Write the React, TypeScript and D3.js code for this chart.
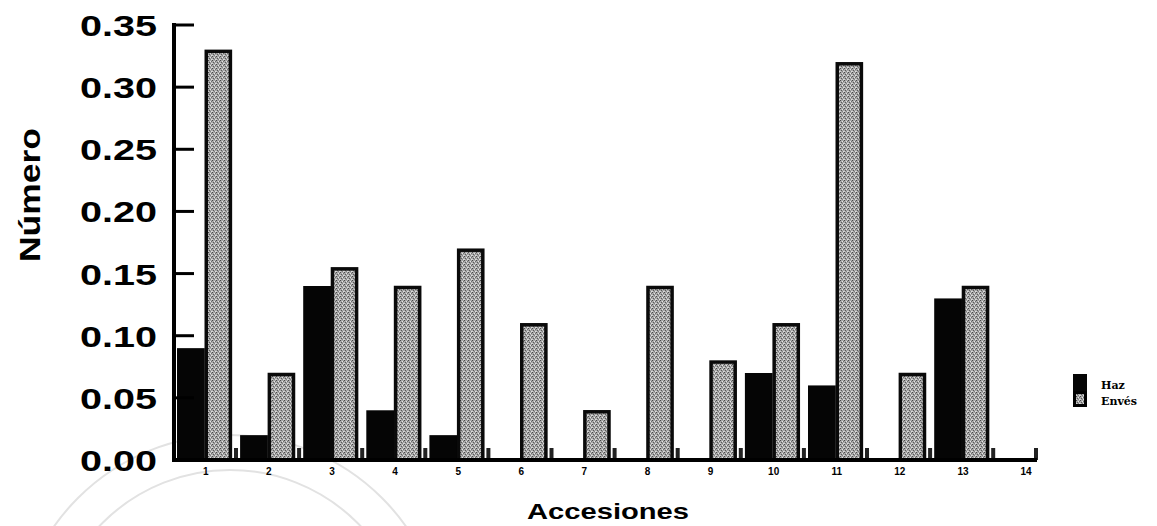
import { useMemo } from "react";
import * as d3 from "d3";

// Accessions on the x axis
const ACCESSIONS = ["1", "2", "3", "4", "5", "6", "7", "8", "9", "10", "11", "12", "13", "14"];
// Haz (upper leaf side)
const HAZ = [0.09, 0.02, 0.14, 0.04, 0.02, 0, 0, 0, 0, 0.07, 0.06, 0, 0.13, 0];
// Envés (lower leaf side)
const ENVES = [0.33, 0.07, 0.155, 0.14, 0.17, 0.11, 0.04, 0.14, 0.08, 0.11, 0.32, 0.07, 0.14, 0];
const Y_TICKS = [0, 0.05, 0.1, 0.15, 0.2, 0.25, 0.3, 0.35];
const LEGEND = ["Haz", "Envés"];

const W = 1157;
const H = 526;
const FONT = "'Liberation Sans', Arial, sans-serif";

export default function App() {
  const x = useMemo(
    () => d3.scaleBand<string>().domain(ACCESSIONS).range([177, 177 + 63.1 * ACCESSIONS.length]).padding(0),
    []
  );
  const y = useMemo(() => d3.scaleLinear().domain([0, 0.35]).range([460, 25]), []);

  const bw = x.bandwidth();
  const hazW = bw * 0.44;
  const envW = bw * 0.43;
  const axisX = 174;
  const axisEnd = 1037;

  return (
    <svg
      width={W}
      height={H}
      style={{ position: "absolute", left: 0, top: 0, background: "#fff" }}
    >
      <defs>
        <pattern id="speckle" width="4" height="4" patternUnits="userSpaceOnUse">
          <rect width="4" height="4" fill="#a8a8a8" />
          <rect x="0" y="0" width="1" height="1" fill="#4a4a4a" />
          <rect x="2" y="1" width="1" height="1" fill="#e6e6e6" />
          <rect x="1" y="2" width="1" height="1" fill="#5a5a5a" />
          <rect x="3" y="3" width="1" height="1" fill="#dedede" />
          <rect x="3" y="1" width="1" height="1" fill="#707070" />
          <rect x="0" y="3" width="1" height="1" fill="#d0d0d0" />
          <rect x="2" y="3" width="1" height="1" fill="#808080" />
        </pattern>
      </defs>

      {/* faint seal watermark */}
      <g fill="none" stroke="#e2e2e2" strokeWidth={2}>
        <circle cx={230} cy={650} r={215} />
        <circle cx={230} cy={650} r={180} />
      </g>

      {/* Haz bars */}
      {ACCESSIONS.map((a, i) =>
        HAZ[i] > 0 ? (
          <rect
            key={`h${a}`}
            x={x(a)!}
            y={y(HAZ[i])}
            width={hazW}
            height={y(0) - y(HAZ[i])}
            fill="#050505"
          />
        ) : null
      )}

      {/* Envés bars */}
      {ACCESSIONS.map((a, i) =>
        ENVES[i] > 0 ? (
          <rect
            key={`e${a}`}
            x={x(a)! + hazW + 1.5}
            y={y(ENVES[i]) + 1.5}
            width={envW - 3}
            height={y(0) - y(ENVES[i]) - 1.5}
            fill="url(#speckle)"
            stroke="#0a0a0a"
            strokeWidth={3.5}
          />
        ) : null
      )}

      {/* small inner marks after each group */}
      {ACCESSIONS.slice(0, 13).map((a) => (
        <rect key={`m${a}`} x={x(a)! + 57} y={y(0) - 12} width={4} height={12} fill="#222" />
      ))}
      <rect x={axisEnd - 3} y={y(0) - 12} width={4} height={12} fill="#222" />

      {/* y axis */}
      <line x1={axisX} x2={axisX} y1={y(0.35) - 2} y2={y(0) + 2} stroke="#000" strokeWidth={4} />
      {Y_TICKS.map((t) => (
        <g key={t}>
          {t > 0 && (
            <line x1={axisX} x2={axisX + 20} y1={y(t)} y2={y(t)} stroke="#000" strokeWidth={3} />
          )}
          <text
            x={80}
            y={y(t) + 11}
            fontFamily={FONT}
            fontWeight="bold"
            fontSize={30}
            textLength={77}
            lengthAdjust="spacingAndGlyphs"
            fill="#000"
          >
            {d3.format(".2f")(t)}
          </text>
        </g>
      ))}

      {/* x axis */}
      <line x1={axisX - 2} x2={axisEnd} y1={y(0)} y2={y(0)} stroke="#000" strokeWidth={4} />
      {ACCESSIONS.map((a) => (
        <text
          key={`l${a}`}
          x={x(a)! + hazW + 1}
          y={y(0) + 15}
          textAnchor="middle"
          fontFamily={FONT}
          fontWeight="bold"
          fontSize={10}
          fill="#000"
        >
          {a}
        </text>
      ))}

      {/* axis titles */}
      <text
        x={608}
        y={519}
        textAnchor="middle"
        fontFamily={FONT}
        fontWeight="bold"
        fontSize={22}
        textLength={162}
        lengthAdjust="spacingAndGlyphs"
        fill="#000"
      >
        Accesiones
      </text>
      <text
        transform="translate(40,195) rotate(-90)"
        textAnchor="middle"
        fontFamily={FONT}
        fontWeight="bold"
        fontSize={29}
        textLength={134}
        lengthAdjust="spacingAndGlyphs"
        fill="#000"
      >
        Número
      </text>

      {/* legend */}
      <rect x={1073} y={374} width={14} height={17} fill="#050505" />
      <rect x={1074.5} y={392.5} width={11} height={13} fill="url(#speckle)" stroke="#000" strokeWidth={3} />
      {LEGEND.map((l, i) => (
        <text
          key={l}
          x={1101}
          y={389 + i * 16}
          fontFamily="'DejaVu Serif', serif"
          fontWeight="bold"
          fontSize={11}
          fill="#000"
        >
          {l}
        </text>
      ))}
    </svg>
  );
}
